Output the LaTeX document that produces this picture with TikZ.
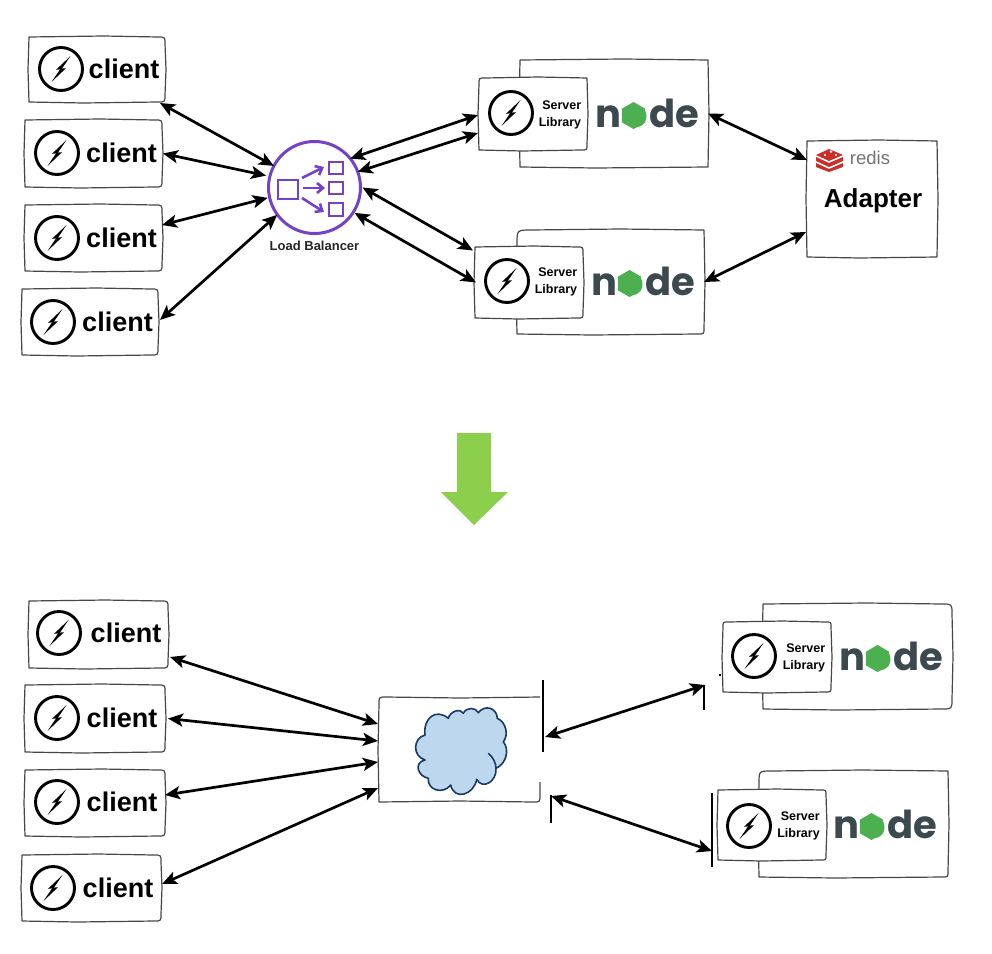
\documentclass[tikz,border=0pt]{standalone}
\usepackage{fontspec}
\setmainfont{Liberation Sans}
\newfontfamily\logofont{Poppins}[UprightFont=* Bold]
\usetikzlibrary{arrows.meta,calc,shapes.geometric}
\definecolor{lbpurple}{HTML}{7442C8}
\definecolor{nodedark}{HTML}{3C4A50}
\definecolor{nodegreen}{HTML}{4CAF50}
\definecolor{redisred}{HTML}{C9302A}
\definecolor{downgreen}{HTML}{8CCF4D}
\definecolor{cloudfill}{HTML}{BDD7EE}
\definecolor{cloudline}{HTML}{1B3A63}
\tikzset{
  sk/.style={draw=black!72,line width=1.2pt,fill=white,line join=round},
  anchorbox/.style={inner sep=0pt,outer sep=0pt},
  dbl/.style={line width=2.7pt,black,{Stealth[length=15pt,width=13pt,inset=3.5pt]}-{Stealth[length=15pt,width=13pt,inset=3.5pt]}},
  clientlabel/.style={font=\fontsize{27}{27}\selectfont\bfseries,inner sep=0pt,anchor=base},
  serverlabel/.style={font=\fontsize{12.5}{17.5}\selectfont\bfseries,inner sep=0pt,align=right},
  iconring/.style={circle,draw=black,line width=2.9pt,minimum size=43pt,inner sep=0pt,outer sep=0pt},
  lbshape/.style={draw=lbpurple,line width=2.7pt,fill=white},
  lbarrow/.style={draw=lbpurple,line width=2.6pt,-{Straight Barb[length=6pt,width=10pt]}},
  thinmark/.style={draw=black,line width=1.1pt},
}
% name, x1,y1,x2,y2, corner radii TL,TR,BR,BL
\newcommand{\skbox}[9]{%
  \draw[sk] ({#2+#6},#3) -- ({0.45*#2+0.55*#4},{#3-1}) -- ({#4-#7},#3)
    .. controls (#4,#3) .. (#4,{#3+#7})
    -- ({#4+1},{0.5*#3+0.5*#5}) -- (#4,{#5-#8})
    .. controls (#4,#5) .. ({#4-#8},#5)
    -- ({0.6*#2+0.4*#4},{#5+1}) -- ({#2+#9},#5)
    .. controls (#2,#5) .. (#2,{#5-#9})
    -- ({#2-1},{0.5*#3+0.5*#5}) -- (#2,{#3+#6})
    .. controls (#2,#3) .. ({#2+#6},#3) -- cycle;
  \node[anchorbox,minimum width={(#4-#2)*1pt},minimum height={(#5-#3)*1pt}] (#1) at ({0.5*#2+0.5*#4},{0.5*#3+0.5*#5}) {};
}
% name, cx, cy
\newcommand{\sockicon}[3]{%
  \node[iconring] (#1) at (#2,#3) {};
  \fill[black] ({#2+9.5},{#3-13}) -- ({#2-5},{#3+0.8}) -- ({#2+0.5},{#3+0.3}) -- cycle;
  \fill[black] ({#2-9.5},{#3+13}) -- ({#2+5},{#3-0.8}) -- ({#2-0.5},{#3-0.3}) -- cycle;
}
% name, x1,y1,x2,y2, icon cx, icon cy, text centre x, baseline
\newcommand{\clientbox}[9]{%
  \skbox{#1}{#2}{#3}{#4}{#5}{0}{7}{7}{0}
  \sockicon{#1icon}{#6}{#7}
  \node[clientlabel] (#1text) at (#8,#9) {client};
}
% name, left, baseline of node logo
\newcommand{\nodelogo}[3]{%
  \node[anchor=base west,inner sep=0pt,text=nodedark,font=\fontsize{38.5}{38.5}\logofont] (#1) at ({#2-2},#3) {n\kern2pt\textcolor{nodegreen}{o}\kern2pt de};
  \node[regular polygon,regular polygon sides=6,shape border rotate=30,minimum size=27pt,inner sep=0pt,fill=nodegreen] (#1hex) at ({#2+36.5},{#3-11.5}) {};
}
% name, icon cx, cy, text cx, cy
\newcommand{\serverbits}[5]{%
  \sockicon{#1icon}{#2}{#3}
  \node[serverlabel] (#1text) at (#4,#5) {Server\\Library};
}
\begin{document}
\begin{tikzpicture}[x=1pt,y=-1pt]
\useasboundingbox (0,0) rectangle (992,953);
\fill[white] (0,0) rectangle (992,953);

% --- top clients
\clientbox{ca}{29}{37}{165}{102}{61}{69}{124}{78}
\clientbox{cb}{25}{120}{162}{187}{57}{153}{121.5}{162}
\clientbox{cc}{25}{205}{162}{271}{57}{238}{121.5}{247}
\clientbox{cd}{22}{289}{158}{355}{53}{322}{117.5}{331}

% --- load balancer
\node[circle,draw=lbpurple,line width=3pt,minimum size=92pt,inner sep=0pt,outer sep=0pt] (lb) at (314.5,187.5) {};
\draw[lbshape] (278,180) rectangle (298,199);
\draw[lbshape] (329,162) rectangle (343,174);
\draw[lbshape] (329,182) rectangle (343,194);
\draw[lbshape] (329,203) rectangle (343,216);
\draw[lbarrow] (302,178) -- (324,167);
\draw[lbarrow] (303,188) -- (325,188);
\draw[lbarrow] (302,198) -- (324,212);
\node[inner sep=0pt,font=\fontsize{13}{13}\selectfont\bfseries,text=black!85] (lbtext) at (314.5,245.5) {Load Balancer};

% --- servers top
\skbox{sao}{520}{60}{708}{167}{0}{0}{0}{0}
\skbox{sai}{479}{78}{587}{150}{6}{0}{6}{0}
\serverbits{sa}{511}{113}{560}{115}
\nodelogo{salogo}{597}{127}
\skbox{sbo}{517}{230}{704}{334}{14}{0}{6}{0}
\skbox{sbi}{475}{247}{583}{318}{0}{6}{6}{0}
\serverbits{sb}{507}{281}{556}{282}
\nodelogo{sblogo}{593}{295}

% --- adapter
\skbox{ad}{807}{141}{937}{257}{0}{0}{0}{0}
\fill[redisred] (816,155) -- (829,149) -- (843,155) -- (829,161) -- cycle;
\fill[redisred] (816,157) -- (829,163) -- (843,157) -- (843,161) -- (829,167) -- (816,161) -- cycle;
\fill[redisred] (816,163) -- (829,169) -- (843,163) -- (843,167) -- (829,172) -- (816,167) -- cycle;
\fill[white] (831,151.5) circle (1.4pt) (825,155) circle (1.2pt) (836,155) circle (1.1pt);
\node[inner sep=0pt,anchor=base,text=black!55,font=\fontsize{18.5}{18.5}\selectfont] (redistext) at (870,164) {redis};
\node[inner sep=0pt,font=\fontsize{26}{26}\selectfont\bfseries] (adtext) at (873,201) {Adapter};

% --- top connectors
\draw[dbl] ($(ca.south east)+(-5,1)$) -- (lb.152);
\draw[dbl] ($(cb.east)+(1,0)$) -- ($(lb.165)+(-4,0)$);
\draw[dbl] ($(cc.east)+(0,-13)$) -- ($(lb.193)+(-2,0)$);
\draw[dbl] ($(cd.east)+(2,-2)$) -- ($(lb.218)+(-1,-1)$);
\draw[dbl] (lb.39) -- ($(sai.west)+(-1,1)$);
\draw[dbl] (lb.20) -- ($(sai.west)+(-1,19)$);
\draw[dbl] ($(lb.0)+(2,0)$) -- ($(sbi.west)+(-2,-32)$);
\draw[dbl] ($(lb.-32)+(1,1)$) -- ($(sbi.west)+(1,0)$);
\draw[dbl] (sao.east) -- ($(ad.west)+(0,-39)$);
\draw[dbl] (sbo.east) -- ($(ad.west)+(-1,33)$);

% --- transition arrow
\fill[downgreen] (457,433) -- (491,433) -- (491,492) -- (508,492) -- (474,525) -- (441,492) -- (457,492) -- cycle;

% --- bottom clients
\clientbox{cp}{29}{601}{168}{668}{59}{633}{126}{642}
\clientbox{cq}{25}{685}{165}{752}{57}{718}{122}{727}
\clientbox{cr}{25}{770}{165}{836}{57}{802}{122}{811}
\clientbox{cs}{22}{855}{161}{921}{53}{888}{118}{897}

% --- central box with cloud
\draw[draw=black!72,line width=1.2pt,line join=round] (540,697) -- (460,698) -- (386,697) .. controls (379,697) .. (379,704) -- (378,750) -- (379,802) -- (460,801) -- (533,802) .. controls (540,802) .. (540,795) -- (540,782);
\node[anchorbox,minimum width=161pt,minimum height=105pt] (gw) at (459.5,749.5) {};
\draw[thinmark] (543,680) -- (543,752);
\draw[thinmark] (551,795) -- (551,823);
\draw[thinmark] (704,685) -- (704,710);
\draw[thinmark] (712,793) -- (712,867);
\draw[thinmark] (719,675) -- (721,675);
\draw[fill=cloudfill,draw=cloudline,line width=1.6pt,line join=round]
  (425,735)
  .. controls (423,718) and (436,708) .. (448.3,718.3)
  .. controls (450,711) and (461,708) .. (463.3,713.3)
  .. controls (466,707) and (476,707) .. (478.3,712.7)
  .. controls (485,704) and (497,708) .. (497.3,718.3)
  .. controls (506,722) and (509,735) .. (503.3,741.7)
  .. controls (510,750) and (506,764) .. (496,768.3)
  .. controls (497,782) and (482,790) .. (476.7,779.3)
  .. controls (474,795) and (454,801) .. (450.7,785)
  .. controls (443,795) and (427,790) .. (428.3,778.3)
  .. controls (417,776) and (414,762) .. (425,760)
  .. controls (412,756) and (413,738) .. (425,735) -- cycle;
\draw[draw=cloudline,line width=1.6pt] (488.3,753.3) .. controls (493,757) and (496,763) .. (496,768.3);

% --- servers bottom
\skbox{sco}{763}{604}{952}{709}{0}{10}{10}{0}
\skbox{sci}{723}{622}{831}{692}{5}{5}{6}{0}
\serverbits{sc}{754}{656}{804}{658}
\nodelogo{sclogo}{841}{670}
\skbox{sdo}{759}{771}{948}{877}{12}{0}{6}{0}
\skbox{sdi}{718}{790}{826}{860}{0}{5}{5}{0}
\serverbits{sd}{749}{826}{798.5}{826}
\nodelogo{sdlogo}{835}{838}

% --- bottom connectors
\draw[dbl] ($(cp.south east)+(2,-11)$) -- ($(gw.west)+(-1,-25.5)$);
\draw[dbl] ($(cq.east)+(3,0)$) -- ($(gw.west)+(-1,-8.5)$);
\draw[dbl] ($(cr.east)+(0,-8)$) -- ($(gw.west)+(-1,12.5)$);
\draw[dbl] ($(cs.east)+(1,-4)$) -- ($(gw.west)+(-1,38.5)$);
\draw[dbl] ($(gw.east)+(5,-12.5)$) -- ($(sci.west)+(-18,28)$);
\draw[dbl] ($(gw.east)+(11,46.5)$) -- ($(sdi.west)+(-6,26)$);
\end{tikzpicture}
\end{document}
